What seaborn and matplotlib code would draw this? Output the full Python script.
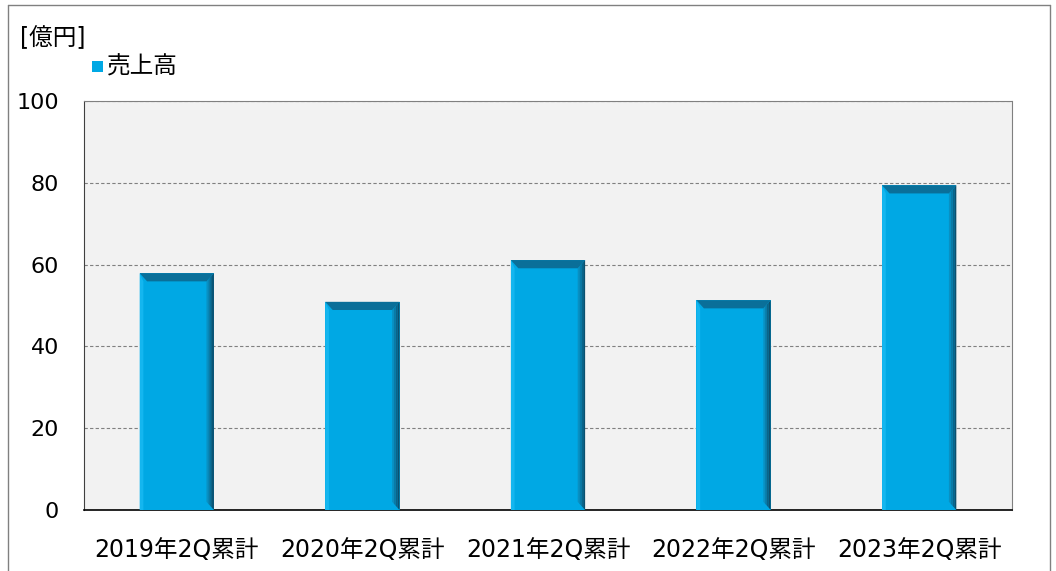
import numpy as np
import pandas as pd
import seaborn as sns
import matplotlib.pyplot as plt
from matplotlib.patches import Polygon, Rectangle
from matplotlib.lines import Line2D

categories = ['2019年2Q累計', '2020年2Q累計', '2021年2Q累計', '2022年2Q累計', '2023年2Q累計']
sales = [57.9, 50.9, 61.1, 51.3, 79.4]
yticks = [0, 20, 40, 60, 80, 100]
unit_label = '[億円]'
series_name = '売上高'

df = pd.DataFrame({'period': categories, 'sales': sales})

sns.set_style('white')
plt.rcParams['font.family'] = ['DejaVu Sans', 'Noto Sans CJK JP']
plt.rcParams['text.color'] = 'black'
plt.rcParams['xtick.color'] = 'black'
plt.rcParams['ytick.color'] = 'black'

bar_color = '#00a8e4'

fig = plt.figure(figsize=(10.56, 5.71), dpi=100)
ax = fig.add_axes([84 / 1056, 1 - 510 / 571, (1012 - 84) / 1056, (510 - 101) / 571])
ax.set_facecolor('#f2f2f2')

sns.barplot(data=df, x='period', y='sales', color=bar_color, width=0.4,
            saturation=1, ax=ax, zorder=3, edgecolor='none')

# bevel shading on each bar
right_shades = ['#0990c2', '#0a7aa6', '#0b6489', '#0b506f']
for p in list(ax.patches):
    x0, w, h = p.get_x(), p.get_width(), p.get_height()
    x1 = x0 + w
    bx = w * 0.1
    by = 2.0
    # left highlight
    ax.add_patch(Polygon([(x0, 0), (x0 + bx * 0.5, 0), (x0 + bx * 0.5, h - by), (x0, h)],
                         closed=True, facecolor='#14b6ef', edgecolor='none', zorder=4))
    # right dark gradient
    n = len(right_shades)
    for i, c in enumerate(right_shades):
        xa = x1 - bx + bx * i / n
        xb = x1 - bx + bx * (i + 1) / n
        ax.add_patch(Polygon([(xa, by * (1 - i / n)), (xb, by * (1 - (i + 1) / n)),
                              (xb, h - by * (1 - (i + 1) / n)), (xa, h - by * (1 - i / n))],
                             closed=True, facecolor=c, edgecolor='none', zorder=4))
    # top dark band
    ax.add_patch(Polygon([(x0, h), (x1, h), (x1 - bx, h - by), (x0 + bx, h - by)],
                         closed=True, facecolor='#0a6f99', edgecolor='none', zorder=4))

ax.set_ylim(0, 100)
ax.set_xlim(-0.5, len(categories) - 0.5)
ax.set_yticks(yticks)
ax.yaxis.grid(True, linestyle=(0, (3, 2)), color='#808080', linewidth=0.8, zorder=0)
ax.set_axisbelow(True)
ax.set_xlabel('')
ax.set_ylabel('')

ax.tick_params(axis='y', length=0, pad=18, labelsize=16)
ax.tick_params(axis='x', which='major', length=0, pad=20, labelsize=17)
ax.set_xticks(np.arange(0.5, len(categories) - 0.5), minor=True)
ax.tick_params(axis='x', which='minor', direction='in', length=7, color='#404040', width=0.8)

for s in ['top', 'right']:
    ax.spines[s].set_color('#808080')
    ax.spines[s].set_linewidth(0.8)
ax.spines['left'].set_color('#404040')
ax.spines['left'].set_linewidth(0.8)
ax.spines['bottom'].set_color('#000000')
ax.spines['bottom'].set_linewidth(1.2)
ax.spines['top'].set_linestyle((0, (3, 1)))

# unit label and legend
fig.text(20 / 1056, 1 - 38 / 571, unit_label, fontsize=17, va='center', ha='left')
fig.patches.append(Rectangle((92 / 1056, 1 - 72 / 571), 11 / 1056, 11 / 571,
                             transform=fig.transFigure, facecolor=bar_color,
                             edgecolor='none'))
fig.text(107 / 1056, 1 - 67 / 571, series_name, fontsize=17, va='center', ha='left')

# outer frame
for xs, ys in [([8, 8], [0, 566]), ([8, 1050], [566, 566]), ([1050, 1050], [566, 0])]:
    fig.lines.append(Line2D([v / 1056 for v in xs], [v / 571 for v in ys],
                            transform=fig.transFigure, color='#808080', linewidth=1))

plt.savefig('out.png', dpi=100)
